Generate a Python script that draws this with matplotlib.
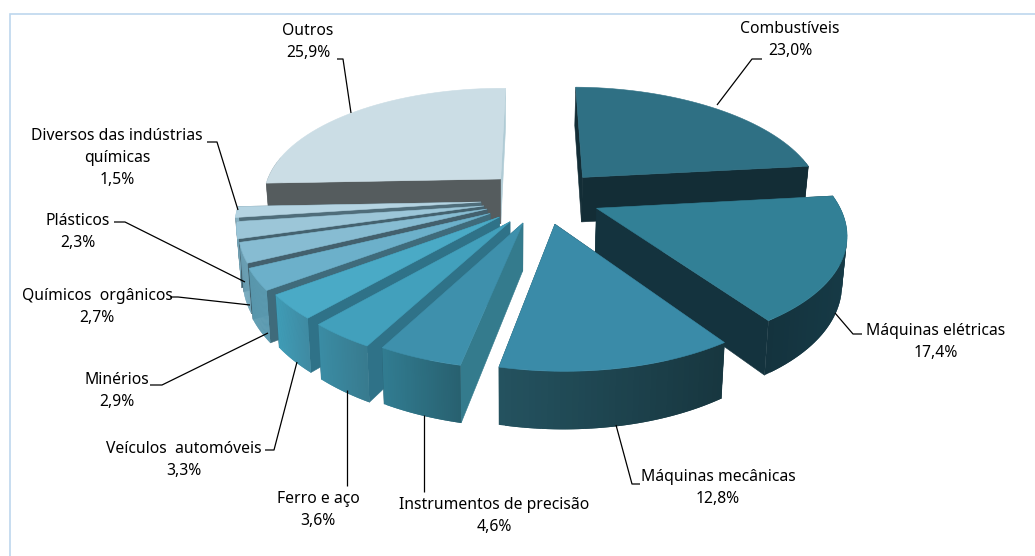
import numpy as np
import matplotlib
matplotlib.use("Agg")
import matplotlib.pyplot as plt
from matplotlib.colors import to_rgb
from matplotlib.patches import Polygon, Rectangle

categories = ["Combustíveis", "Máquinas elétricas", "Máquinas mecânicas",
              "Instrumentos de precisão", "Ferro e aço", "Veículos  automóveis",
              "Minérios", "Químicos  orgânicos", "Plásticos",
              "Diversos das indústrias\nquímicas", "Outros"]
values = [23.0, 17.4, 12.8, 4.6, 3.6, 3.3, 2.9, 2.7, 2.3, 1.5, 25.9]

top_colors = ["#2F7084", "#328096", "#3A8BA8", "#3E90AC", "#42A0BC", "#4AAAC6",
              "#6CB0CA", "#87BCD2", "#9CC6D8", "#B5D4E2", "#CBDDE5"]
cut_start = ["#132D36", "#14333E", "#14333E", "#347B8D", "#2F7288", "#2F7288",
             "#3F6B7B", "#43606D", "#44626F", "#4F6D7A", "#555C5E"]
cut_end = ["#132D36", "#14333E", "#24525F", "#2A6577", "#2F7288", "#2F7288",
           "#3F6B7B", "#43606D", "#44626F", "#4F6D7A", "#B0CBD5"]
side_left = ["#132D36", "#14333E", "#24525F", "#317C91", "#3A8CA4", "#3F9CB6",
             "#5B9AB0", "#6FA5BA", "#7FB0C3", "#8FBACB", "#555C5E"]
side_right = ["#132D36", "#163A46", "#17363F", "#28606F", "#387A8E", "#3F8AA2",
              "#5B9AB0", "#6FA5BA", "#7FB0C3", "#8FBACB", "#555C5E"]
# explosion of each slice in the plane of the pie (unit radius)
offset_x = [.312, .355, .18, .052, .0, -.043, -.081, -.094, -.107, -.12, -.04]
offset_y = [.19, -.09, -.225, -.215, -.205, -.165, -.135, -.097, -.07, -.036, .175]

label_pos = [(790, 40), (936, 342), (718, 488), (494, 516), (318, 510), (184, 460),
             (117, 391), (97, 307), (78, 232), (117, 158), (308, 42)]
leaders = [[(762, 59), (752, 59), (717, 105)],
           [(835, 313), (853, 334), (862, 334)],
           [(616, 425), (632, 484), (640, 484)],
           [(424, 415), (424, 492)],
           [(347, 390), (347, 486)],
           [(297, 362), (274, 450), (265, 450)],
           [(150, 385), (162, 385), (268, 333)],
           [(170, 297), (178, 297), (250, 305)],
           [(114, 222), (125, 222), (245, 282)],
           [(207, 142), (217, 142), (238, 210)],
           [(337, 59), (343, 59), (351, 113)]]

CX, CY, A, B, K, H, SHRINK, ROT = 510, 198, 240, 112, 0.17, 46, 0.985, 1.0

def project(X, Y, bottom=False):
    X, Y = np.asarray(X, float), np.asarray(Y, float)
    p = 1 / (1 + K * Y)
    x = A * X * p
    y = CY - B * Y * p
    if bottom:
        return CX + x * SHRINK, y + H * p
    return CX + x, y

def mix(c1, c2, t):
    c1, c2 = np.array(to_rgb(c1)), np.array(to_rgb(c2))
    return tuple(c1 + (c2 - c1) * t)

fig = plt.figure(figsize=(10.35, 5.56), dpi=100, facecolor="white")
ax = fig.add_axes([0, 0, 1, 1])
ax.set_xlim(0, 1035)
ax.set_ylim(556, 0)
ax.axis("off")
ax.add_patch(Rectangle((10, 14), 1100, 700, fc="white", ec="#BDD7EE", lw=1.2))

def poly(xs, ys, color, lw=0.4):
    ax.add_patch(Polygon(np.column_stack([xs, ys]), closed=True, fc=color,
                         ec=color if lw else "none", lw=lw))

edges = np.radians(np.r_[0, np.cumsum(values)] / sum(values) * 360 + ROT)
mids = (edges[:-1] + edges[1:]) / 2
order = np.argsort(-np.cos(mids))

for i in order:
    t = np.linspace(edges[i], edges[i + 1], 40)
    ox, oy = offset_x[i], offset_y[i]
    X, Y = ox + np.sin(t), oy + np.cos(t)
    # cut faces, the farther one first
    faces = sorted([(edges[i], cut_start[i]), (edges[i + 1], cut_end[i])],
                   key=lambda f: -np.cos(f[0]))
    for th, col in faces:
        ex, ey = np.array([ox, ox + np.sin(th)]), np.array([oy, oy + np.cos(th)])
        xt, yt = project(ex, ey)
        xb, yb = project(ex, ey, bottom=True)
        poly(np.r_[xt, xb[::-1]], np.r_[yt, yb[::-1]], col)
    # outer wall, shaded from the left end to the right end
    xt, yt = project(X, Y)
    xb, yb = project(X, Y, bottom=True)
    rng = np.arange(len(t) - 1)
    if xt[0] > xt[-1]:
        rng = rng[::-1]
    for j in rng:
        if np.cos(t[j]) > 0.15 and np.cos(t[j + 1]) > 0.15:
            continue
        f = (min(xt[j], xt[j + 1]) - xt.min()) / max(xt.max() - xt.min(), 1)
        a, b = j, min(j + 1, len(t) - 1)
        # each strip overlaps its neighbour so that no seam shows
        a2 = max(a - 1, 0) if xt[0] > xt[-1] else a
        b2 = b if xt[0] > xt[-1] else min(b + 1, len(t) - 1)
        poly([xt[a2], xt[b2], xb[b2], xb[a2]], [yt[a2], yt[b2], yb[b2], yb[a2]],
             mix(side_left[i], side_right[i], f), lw=0)
    # top face
    xa, ya = project([ox], [oy])
    poly(np.r_[xa, xt], np.r_[ya, yt], top_colors[i])

for pts in leaders:
    ax.plot(*zip(*pts), color="black", lw=0.9, solid_capstyle="butt")

for name, val, (x, y) in zip(categories, values, label_pos):
    text = f"{name}\n{val:.1f}%".replace(".", ",")
    ax.text(x, y, text, ha="center", va="center", fontsize=11.3, family="Noto Sans",
            linespacing=1.52, color="black")

fig.savefig("out.png", dpi=100)
